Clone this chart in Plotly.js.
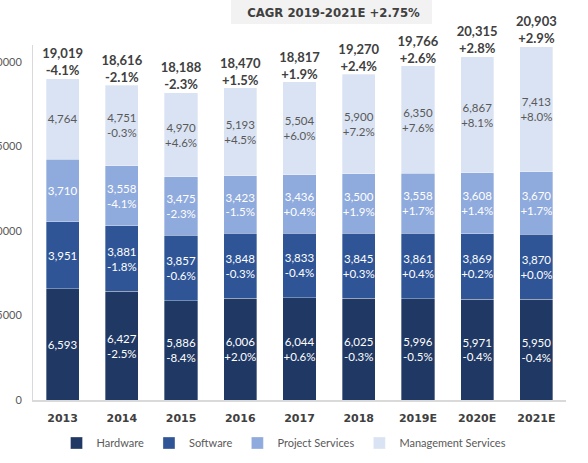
<!DOCTYPE html>
<html>
<head>
<meta charset="utf-8">
<script src="https://cdn.plot.ly/plotly-3.0.1.min.js"></script>
<style>html,body{margin:0;padding:0;background:#fff;}#chart{width:588px;height:463px;}</style>
</head>
<body>
<div id="chart"></div>
<script>
const categories = ['2013','2014','2015','2016','2017','2018','2019E','2020E','2021E'];
const hardware = [6593, 6427, 5886, 6006, 6044, 6025, 5996, 5971, 5950];
const hardwarePct = ['', '-2.5%', '-8.4%', '+2.0%', '+0.6%', '-0.3%', '-0.5%', '-0.4%', '-0.4%'];
const software = [3951, 3881, 3857, 3848, 3833, 3845, 3861, 3869, 3870];
const softwarePct = ['', '-1.8%', '-0.6%', '-0.3%', '-0.4%', '+0.3%', '+0.4%', '+0.2%', '+0.0%'];
const projectServices = [3710, 3558, 3475, 3423, 3436, 3500, 3558, 3608, 3670];
const projectPct = ['', '-4.1%', '-2.3%', '-1.5%', '+0.4%', '+1.9%', '+1.7%', '+1.4%', '+1.7%'];
const managementServices = [4764, 4751, 4970, 5193, 5504, 5900, 6350, 6867, 7413];
const managementPct = ['', '-0.3%', '+4.6%', '+4.5%', '+6.0%', '+7.2%', '+7.6%', '+8.1%', '+8.0%'];
const totals = [19019, 18616, 18188, 18470, 18817, 19270, 19766, 20315, 20903];
const totalPct = ['-4.1%', '-2.1%', '-2.3%', '+1.5%', '+1.9%', '+2.4%', '+2.6%', '+2.8%', '+2.9%'];
const titleText = 'CAGR 2019-2021E +2.75%';

const fmt = v => v.toLocaleString('en-US');
const lbl = (vals, pcts) => vals.map((v, i) => pcts[i] ? fmt(v) + '<br>' + pcts[i] : fmt(v));

function barTrace(name, vals, pcts, color, textColor) {
  return {
    type: 'bar', name: name, x: categories, y: vals,
    text: lbl(vals, pcts), textposition: 'inside', insidetextanchor: 'middle',
    textangle: 0, constraintext: 'none',
    textfont: {family: 'Lato', size: 11.5, color: textColor},
    marker: {color: color, line: {color: 'rgba(255,255,255,0.55)', width: 0.6}},
    hoverinfo: 'skip'
  };
}

const data = [
  barTrace('Hardware', hardware, hardwarePct, '#203864', '#ffffff'),
  barTrace('Software', software, softwarePct, '#2f5597', '#ffffff'),
  barTrace('Project Services', projectServices, projectPct, '#8faadc', '#ffffff'),
  barTrace('Management Services', managementServices, managementPct, '#dae3f3', '#595959'),
  {
    type: 'scatter', mode: 'text', x: categories, y: totals,
    text: totals.map((t, i) => fmt(t) + '<br>' + totalPct[i]),
    textposition: 'top center', cliponaxis: false, showlegend: false, hoverinfo: 'skip',
    textfont: {family: 'Lato', size: 13, weight: 'bold', color: '#404040'}
  }
];

const layout = {
  width: 588, height: 463,
  margin: {l: 33, r: 22, t: 45, b: 63},
  paper_bgcolor: '#ffffff', plot_bgcolor: '#ffffff',
  barmode: 'stack', bargap: 0.44,
  showlegend: true,
  title: {
    text: titleText, x: 333.5 / 588, xanchor: 'center', xref: 'container',
    y: 1 - 12 / 463, yanchor: 'middle', yref: 'container',
    font: {family: 'DejaVu Sans Condensed', size: 13, weight: 'bold', color: '#404040'}
  },
  shapes: [{
    type: 'rect', layer: 'below', xref: 'paper', yref: 'paper',
    x0: (231 - 33) / 533, x1: (432 - 33) / 533,
    y0: (400 - 24) / 355, y1: (400 + 2) / 355,
    fillcolor: '#f2f2f2', line: {width: 0}
  }],
  xaxis: {
    type: 'category', range: [-0.5, 8.5],
    showline: true, linecolor: '#d9d9d9', linewidth: 2,
    showgrid: false, zeroline: false,
    ticks: 'outside', ticklen: 7, tickcolor: 'rgba(0,0,0,0)',
    tickfont: {family: 'DejaVu Sans', size: 11, weight: 'bold', color: '#404040'}
  },
  yaxis: {
    range: [0, 21000], tickvals: [0, 5000, 10000, 15000, 20000], tickformat: 'd',
    showline: true, linecolor: '#d9d9d9', linewidth: 1,
    showgrid: false, zeroline: false,
    ticks: 'outside', ticklen: 8, tickcolor: 'rgba(0,0,0,0)',
    tickfont: {family: 'Lato', size: 11, color: '#595959'}
  },
  legend: {
    orientation: 'h', xref: 'container', yref: 'container',
    x: 0.483, xanchor: 'center', y: 1 - 443 / 463, yanchor: 'middle',
    font: {family: 'Lato', size: 11, color: '#595959'},
    traceorder: 'normal'
  }
};

Plotly.newPlot('chart', data, layout, {displayModeBar: false, staticPlot: true});
</script>
</body>
</html>
